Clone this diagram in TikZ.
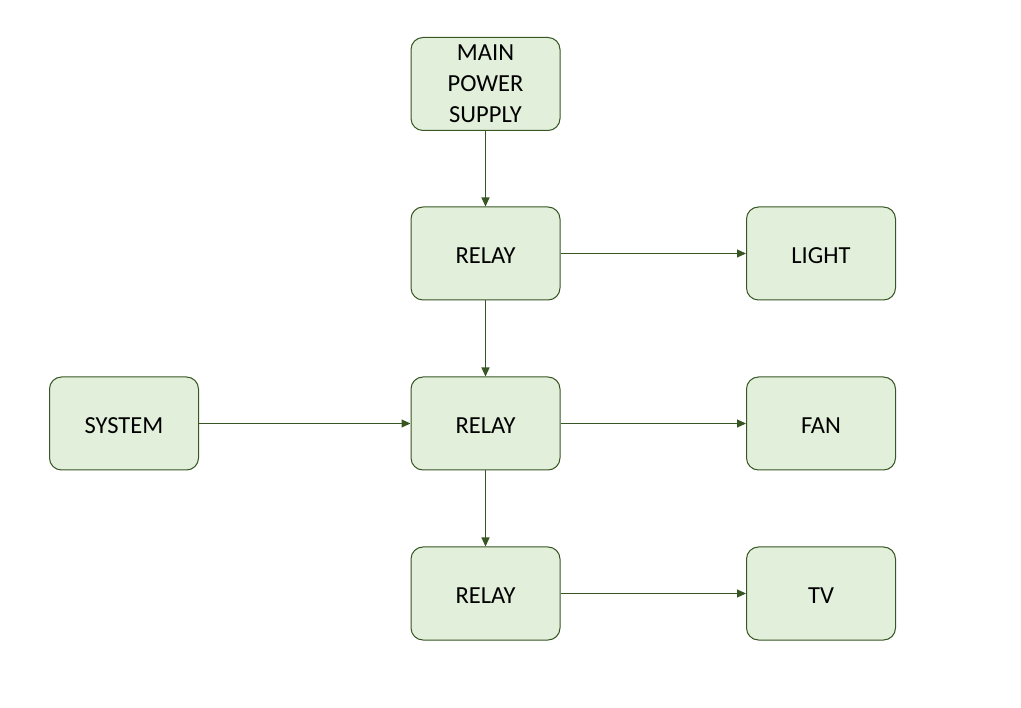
\documentclass[tikz,border=0pt]{standalone}
\usepackage{fontspec}
\setmainfont{Carlito}
\usetikzlibrary{arrows.meta}
\definecolor{boxfill}{HTML}{E2EFDA}
\definecolor{boxline}{HTML}{375623}
\begin{document}
\begin{tikzpicture}[x=1pt,y=-1pt,
  blk/.style={draw=boxline, line width=1pt, fill=boxfill, rounded corners=12pt,
    minimum width=149pt, minimum height=93pt, inner sep=0pt, align=center,
    font=\fontsize{24.5}{31}\selectfont, text=black},
  one/.style={text height=20pt, text depth=0pt},
  conn/.style={draw=boxline, line width=1.1pt, -{Triangle[length=9pt,width=8pt]}}]
\useasboundingbox (0,0) rectangle (1021,708);
\node[blk] (main) at (485.5,84) {MAIN\\POWER\\SUPPLY};
\node[blk,one] (r1) at (485.5,253.5) {RELAY};
\node[blk,one] (light) at (821,253.5) {LIGHT};
\node[blk,one] (r2) at (485.5,423.5) {RELAY};
\node[blk,one] (sys) at (124,423.5) {SYSTEM};
\node[blk,one] (fan) at (821,423.5) {FAN};
\node[blk,one] (r3) at (485.5,593.5) {RELAY};
\node[blk,one] (tv) at (821,593.5) {TV};
\draw[conn] (main) -- (r1);
\draw[conn] (r1) -- (light);
\draw[conn] (r1) -- (r2);
\draw[conn] (sys) -- (r2);
\draw[conn] (r2) -- (fan);
\draw[conn] (r2) -- (r3);
\draw[conn] (r3) -- (tv);
\end{tikzpicture}
\end{document}
